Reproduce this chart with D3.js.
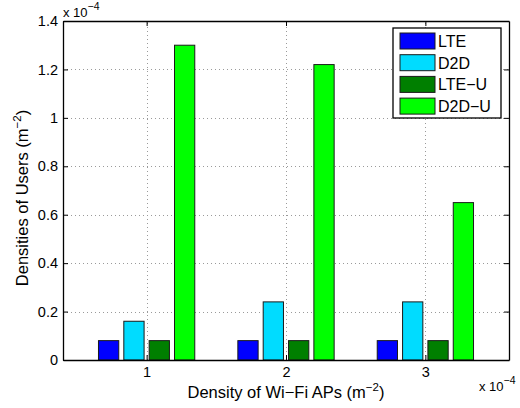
<!DOCTYPE html>
<html>
<head>
<meta charset="utf-8">
<script src="https://cdn.jsdelivr.net/npm/d3@7"></script>
<style>
  html, body { margin: 0; padding: 0; background: #fff; }
  svg text { font-family: "Liberation Sans", Arial, Helvetica, sans-serif; fill: #000; }
</style>
</head>
<body>
<svg id="chart" width="520" height="408"></svg>
<script>
// Wi-Fi AP densities (x 10^-4 m^-2) and user densities per scheme (x 10^-4 m^-2)
const apDensity = [1, 2, 3];
const seriesNames = ["LTE", "D2D", "LTE\u2212U", "D2D\u2212U"];
const seriesColors = ["#0000ff", "#00dcff", "#007f00", "#00ff00"];
const lteValues = [0.08, 0.08, 0.08];
const d2dValues = [0.16, 0.24, 0.24];
const lteUValues = [0.08, 0.08, 0.08];
const d2dUValues = [1.30, 1.22, 0.65];
const yTicks = [0, 0.2, 0.4, 0.6, 0.8, 1.0, 1.2, 1.4];
const yTickLabels = ["0", "0.2", "0.4", "0.6", "0.8", "1", "1.2", "1.4"];
const xTicks = [1, 2, 3];

const seriesValues = [lteValues, d2dValues, lteUValues, d2dUValues];

const svg = d3.select("#chart");
const margin = { left: 63, top: 21, right: 11, bottom: 48 };
const W = 520, H = 408;
const pw = W - margin.left - margin.right;
const ph = H - margin.top - margin.bottom;

const x = d3.scaleLinear().domain([0.4, 3.6]).range([margin.left, margin.left + pw]);
const y = d3.scaleLinear().domain([0, 1.4]).range([margin.top + ph, margin.top]);

// grouped bar geometry (in data units)
const nSeries = seriesNames.length;
const groupWidth = Math.min(0.8, nSeries / (nSeries + 1.5));
const slot = groupWidth / nSeries;
const barW = slot * 0.8;

const g = svg.append("g");

// dotted grid
const grid = g.append("g").attr("stroke", "#9a9a9a").attr("stroke-width", 1)
  .attr("stroke-dasharray", "1,3");
yTicks.slice(1, -1).forEach(v => {
  grid.append("line").attr("x1", x.range()[0]).attr("x2", x.range()[1])
    .attr("y1", Math.round(y(v)) + 0.5).attr("y2", Math.round(y(v)) + 0.5);
});
xTicks.forEach(v => {
  grid.append("line").attr("y1", y.range()[0]).attr("y2", y.range()[1])
    .attr("x1", Math.round(x(v)) + 0.5).attr("x2", Math.round(x(v)) + 0.5);
});

// bars
seriesValues.forEach((vals, si) => {
  const off = (si - (nSeries - 1) / 2) * slot;
  g.append("g").selectAll("rect").data(vals).join("rect")
    .attr("x", (d, i) => x(apDensity[i] + off - barW / 2))
    .attr("width", x(barW) - x(0))
    .attr("y", d => y(d))
    .attr("height", d => y(0) - y(d))
    .attr("fill", seriesColors[si])
    .attr("stroke", "#1a1a1a")
    .attr("stroke-width", 1);
});

// axes box with inward ticks on all sides
const tickLen = 5;
const tickFont = 14.5;
const axL = d3.axisLeft(y).tickValues(yTicks).tickSizeInner(-tickLen).tickSizeOuter(0)
  .tickFormat((d, i) => yTickLabels[i]).tickPadding(5);
const axR = d3.axisRight(y).tickValues(yTicks).tickSizeInner(-tickLen).tickSizeOuter(0).tickFormat("");
const axB = d3.axisBottom(x).tickValues(xTicks).tickSizeInner(-tickLen).tickSizeOuter(0)
  .tickFormat(d3.format("d")).tickPadding(6.5);
const axT = d3.axisTop(x).tickValues(xTicks).tickSizeInner(-tickLen).tickSizeOuter(0).tickFormat("");

function styleAxis(sel) {
  sel.selectAll("path").attr("stroke", "#000").attr("stroke-width", 1.3);
  sel.selectAll("line").attr("stroke", "#000");
  sel.selectAll("text").attr("font-size", tickFont).style("font-family", "'Liberation Sans', Arial, sans-serif");
}
g.append("g").attr("transform", `translate(${margin.left},0)`).call(axL).call(styleAxis);
g.append("g").attr("transform", `translate(${margin.left + pw},0)`).call(axR).call(styleAxis);
g.append("g").attr("transform", `translate(0,${margin.top + ph})`).call(axB).call(styleAxis);
g.append("g").attr("transform", `translate(0,${margin.top})`).call(axT).call(styleAxis);

// exponent annotations
function expLabel(px, py) {
  const t = svg.append("text").attr("x", px).attr("y", py).attr("font-size", 13);
  t.append("tspan").text("x 10");
  t.append("tspan").attr("dy", -7).attr("font-size", 10.5).text("\u22124");
}
expLabel(63, 17);
expLabel(479, 391);

// axis titles
const xt = svg.append("text").attr("x", margin.left + pw / 2).attr("y", 398)
  .attr("text-anchor", "middle").attr("font-size", 16.5);
xt.append("tspan").text("Density of Wi\u2212Fi APs (m");
xt.append("tspan").attr("dy", -7).attr("font-size", 11.5).text("\u22122");
xt.append("tspan").attr("dy", 7).text(")");

const yt = svg.append("text")
  .attr("transform", `translate(28,198) rotate(-90)`)
  .attr("text-anchor", "middle").attr("font-size", 16.5);
yt.append("tspan").text("Densities of Users (m");
yt.append("tspan").attr("dy", -7).attr("font-size", 11.5).text("\u22122");
yt.append("tspan").attr("dy", 7).text(")");

// legend
const lg = svg.append("g").attr("transform", "translate(393,28)");
lg.append("rect").attr("width", 108).attr("height", 90)
  .attr("fill", "#fff").attr("stroke", "#000").attr("stroke-width", 1.3);
seriesNames.forEach((name, i) => {
  const row = lg.append("g").attr("transform", `translate(7,${5 + i * 21.7})`);
  row.append("rect").attr("width", 35).attr("height", 16)
    .attr("fill", seriesColors[i]).attr("stroke", "#1a1a1a");
  row.append("text").attr("x", 38).attr("y", 14).attr("font-size", 16).text(name);
});
</script>
</body>
</html>
